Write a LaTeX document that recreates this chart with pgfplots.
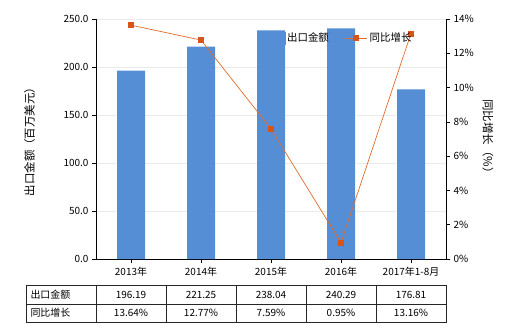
\documentclass[border=0pt]{standalone}
\usepackage{pgfplots}
\pgfplotsset{compat=1.18}
\usepackage{fontspec}
\setmainfont{Noto Sans CJK SC}
\definecolor{barblue}{HTML}{558ED5}
\definecolor{lineorange}{HTML}{E46C2A}
\definecolor{markorange}{HTML}{D9541A}
\definecolor{gridgray}{HTML}{EBEBEB}

% export value (million USD) and year-on-year growth (%)
\pgfplotstableread{
x val growth
0 196.19 13.64
1 221.25 12.77
2 238.04 7.59
3 240.29 0.95
4 176.81 13.16
}\data

\begin{document}
\begin{tikzpicture}[x=1bp,y=1bp]
\useasboundingbox (0,0) rectangle (520,330);
\pgfplotsset{
  base/.style={
    scale only axis, width=350bp, height=240bp,
    at={(96bp,71bp)}, anchor=south west,
    xmin=-0.5, xmax=4.5,
    font=\fontsize{10}{11}\selectfont,
    tick style={black, line width=0.6bp},
    axis line style={black, line width=0.8bp},
    major tick length=4bp,
    tick align=outside,
    /pgf/number format/assume math mode=true,
    clip=false,
  }
}
\begin{axis}[base,
  axis y line*=left, axis x line*=bottom,
  ymin=0, ymax=250, ytick={0,50,...,250},
  yticklabel style={/pgf/number format/fixed, /pgf/number format/fixed zerofill, /pgf/number format/precision=1},
  ymajorgrids, grid style={gridgray, line width=0.6bp},
  xtick={0,...,4},
  xticklabels={2013年,2014年,2015年,2016年,2017年1-8月},
  xticklabel style={yshift=-1bp},
  every axis y label/.style={at={(axis description cs:-0.19,0.5)}, anchor=center, rotate=90, font=\fontsize{11.5}{12}\selectfont},
  ylabel={出口金额（百万美元）},
]
\addplot[ybar, bar width=28bp, fill=barblue, draw=none] table[x=x, y=val]{\data};
\end{axis}
\begin{axis}[base,
  axis y line*=right, axis x line=none,
  ymin=0, ymax=14, ytick={0,2,...,14},
  yticklabel={\pgfmathprintnumber{\tick}\%},
  every axis y label/.style={at={(axis description cs:1.12,0.5)}, anchor=center, rotate=-90, font=\fontsize{11.5}{12}\selectfont},
  ylabel={同比增长（\%）},
  legend style={at={(axis description cs:0.49,0.921)}, anchor=west, draw=none, fill=none,
    legend columns=2, font=\fontsize{10.5}{11}\selectfont,
    /tikz/every even column/.append style={column sep=14bp}},
  legend cell align=left,
  legend image code/.code={
    \draw[#1] (0bp,0bp) -- (22bp,0bp);
    \draw[#1, mark repeat=2, mark phase=2] plot coordinates {(0bp,0bp) (11bp,0bp) (22bp,0bp)};
  },
]
\addlegendimage{legend image code/.code={\fill[barblue] (-4bp,-6bp) rectangle (10bp,6bp);}}
\addlegendentry{出口金额}
\addplot[lineorange, line width=0.7bp, mark=square*, mark size=2.5bp,
  mark options={fill=markorange, draw=markorange}] table[x=x, y=growth]{\data};
\addlegendentry{同比增长}
\end{axis}

% data table under the chart
\begin{scope}[line width=0.6bp, draw=black!85]
  \draw (26,8) rectangle (446,45);
  \draw (26,26) -- (446,26);
  \foreach \xx in {96,166,236,306,376} \draw (\xx,8) -- (\xx,45);
\end{scope}
\begin{scope}[font=\fontsize{10}{11}\selectfont]
  \node[anchor=west] at (27,35.5) {出口金额};
  \node[anchor=west] at (27,17) {同比增长};
  \node at (131,35.5) {196.19};
  \node at (201,35.5) {221.25};
  \node at (271,35.5) {238.04};
  \node at (341,35.5) {240.29};
  \node at (411,35.5) {176.81};
  \node at (131,17) {13.64\%};
  \node at (201,17) {12.77\%};
  \node at (271,17) {7.59\%};
  \node at (341,17) {0.95\%};
  \node at (411,17) {13.16\%};
\end{scope}
\end{tikzpicture}
\end{document}
